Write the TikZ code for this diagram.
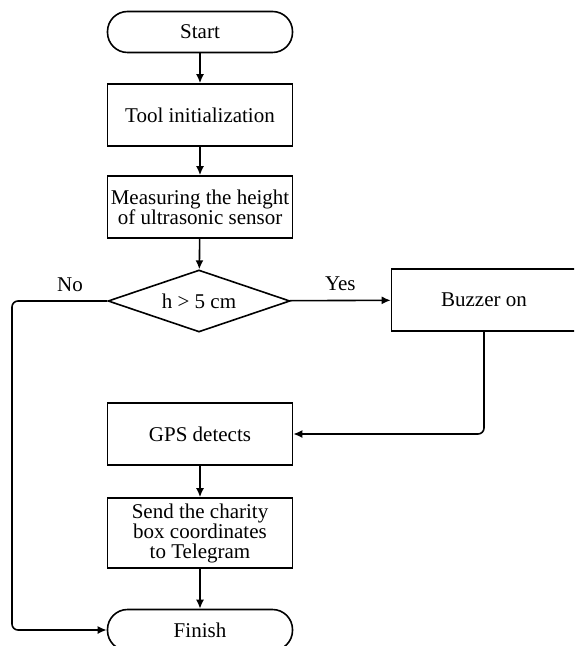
\documentclass[tikz,border=0pt]{standalone}
\usepackage{fontspec}
\setmainfont{Liberation Serif}
\usepackage{tikz}
\usetikzlibrary{shapes, arrows, arrows.meta, positioning, calc}

\tikzset{
    flowbox/.style={draw, rectangle, line width=0.8pt, minimum width=92.5pt, minimum height=31pt, align=center, inner sep=1pt},
    terminal/.style={draw, rectangle, rounded corners=10pt, line width=0.8pt, minimum width=92.5pt, minimum height=20.5pt},
    decision/.style={draw, diamond, aspect=3, line width=0.8pt, minimum width=91pt, minimum height=31pt, inner sep=0pt},
    flowline/.style={line width=0.8pt, -{Latex[length=4.5pt, width=4pt]}}
}

\begin{document}
\begin{tikzpicture}[x=0.5pt, y=-0.5pt, font=\fontsize{10.5}{10}\selectfont]
            \clip (0,0) rectangle (574,646);

            \node[terminal] (start) at (200,32) {Start};
            \node[flowbox] (init) at (200,115) {Tool initialization};
            \node[flowbox] (measure) at (200,207) {Measuring the height\\of ultrasonic sensor};
            \node[decision] (check) at (199,301) {h > 5 cm};
            \node[flowbox] (buzzer) at (484,300) {Buzzer on};
            \node[flowbox] (gps) at (200,434) {GPS detects};
            \node[flowbox, minimum height=35pt] (send) at (200,533) {Send the charity\\box coordinates\\to Telegram};
            \node[terminal] (finish) at (200,630) {Finish};

            \coordinate (noturn) at (12,301);
            \coordinate (nodown) at (12,630);
            \coordinate (buzdown) at (484,434);

            \draw[flowline] (start) -- (init);
            \draw[flowline] (init) -- (measure);
            \draw[flowline] (measure) -- (check);
            \draw[flowline] (check) -- (buzzer) node[midway, above=1pt] {Yes};% Yes branch
            \draw[flowline, rounded corners=3pt] (buzzer) -- (buzdown) -- (gps);
            \draw[flowline] (gps) -- (send);
            \draw[flowline] (send) -- (finish);
            \draw[flowline, rounded corners=3pt] (check.west) -- (noturn) -- (nodown) -- (finish.west);% No branch

            \node (no) at (70,285) {No};
        \end{tikzpicture}
\end{document}
